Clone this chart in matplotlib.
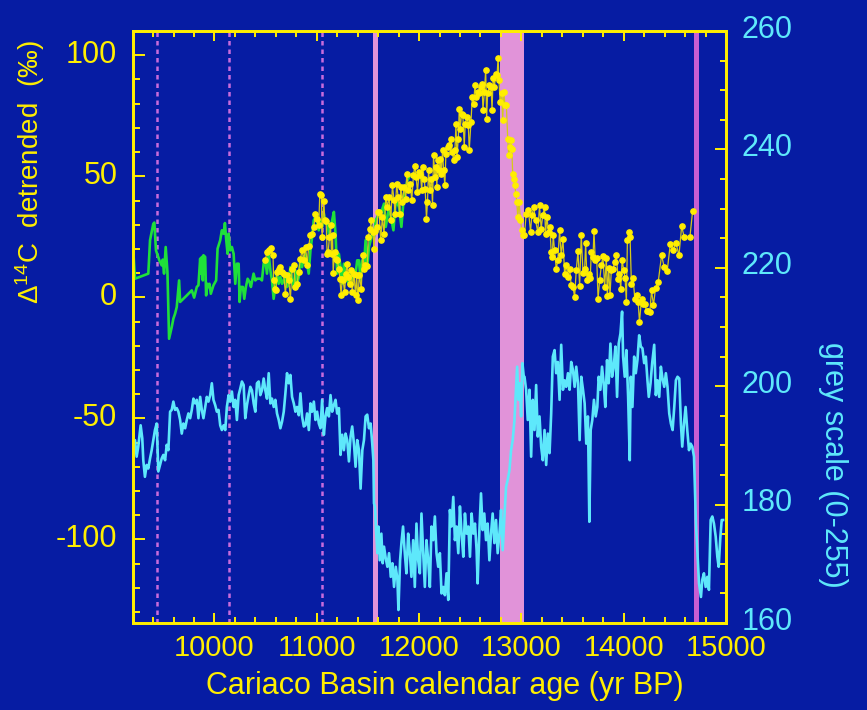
import matplotlib
matplotlib.use("Agg")
import matplotlib.pyplot as plt
import matplotlib.transforms as mtransforms
from matplotlib.ticker import MultipleLocator

plt.rcParams['font.family'] = ['Liberation Sans', 'DejaVu Sans']
plt.rcParams['mathtext.fontset'] = 'custom'
plt.rcParams['mathtext.rm'] = 'Liberation Sans'
plt.rcParams['mathtext.it'] = 'Liberation Sans'
plt.rcParams['axes.unicode_minus'] = False

# green record (delta 14C detrended, left axis)
green_age = [9206, 9223, 9353, 9370, 9402, 9412, 9428, 9461, 9484, 9494, 9507, 9523, 9540, 9556, 9582,
             9598, 9615, 9631, 9654, 9664, 9696, 9729, 9778, 9801, 9827, 9843, 9860, 9869, 9876, 9886,
             9892, 9909, 9918, 9932, 9941, 9951, 9964, 9990, 10016, 10030, 10056, 10072, 10089, 10102,
             10115, 10128, 10138, 10154, 10170, 10187, 10203, 10219, 10236, 10245, 10258, 10278, 10291,
             10307, 10324, 10343, 10356, 10382, 10399, 10415, 10448, 10464, 10480, 10497, 10513, 10529,
             10546, 10562, 10578, 10595, 10611, 10627, 10644, 10660, 10676, 10693, 10709, 10725, 10742,
             10758, 10774, 10791, 10807, 10823, 10840, 10856, 10872, 10889, 10905, 10921, 10938, 10954,
             10970, 10987, 11003, 11019, 11036, 11052, 11069, 11085, 11101, 11118, 11134, 11150, 11167,
             11183, 11199, 11216, 11232, 11248, 11265, 11281, 11297, 11314, 11330, 11346, 11363, 11379,
             11395, 11412, 11428, 11444, 11461, 11477, 11493, 11510, 11526, 11542, 11559, 11575, 11591,
             11608, 11625, 11657, 11674, 11706, 11749, 11772, 11804, 11827, 11853, 11886, 11902]
green_d14c = [19.4, 7.7, 9.8, 23.6, 30.4, 30.9, 19.4, 15.3, 13.2, 15.6, 9.8, 20.8, 10.5, -17.1, -12.3,
              -8.8, -6.7, -4.0, 7.0, -1.9, -0.6, 0.8, 2.9, -0.1, 4.3, 5.0, 16.0, 9.8, 16.7, 7.0,
              17.4, 16.7, 0.8, 5.6, 4.3, 5.6, 1.5, 5.0, 7.0, 20.1, 23.6, 27.7, 26.3, 30.7,
              23.6, 18.0, 26.3, 19.4, 20.8, 18.0, 5.6, 13.9, 13.9, -1.9, 4.3, 4.3, -0.6,
              4.3, 7.7, 6.3, 4.3, 9.8, 7.0, 7.7, 7.7, 7.0, 13.9, 15.3, 9.8, 18.0,
              11.2, 7.0, -0.6, 4.3, 9.8, 5.6, 8.4, 5.6, 7.0, 9.8, 4.3, 5.6, 12.5,
              7.0, 4.3, 11.2, 5.6, 8.4, 15.3, 12.5, 16.7, 18.0, 13.9, 9.8, 19.4, 24.9,
              31.8, 33.2, 31.8, 27.7, 31.8, 29.1, 34.6, 30.4, 31.8, 26.3, 29.1, 31.8, 35.3,
              26.3, 9.8, 18.0, 12.5, 5.6, 13.9, 8.4, 7.0, 5.6, 9.8, 7.0, 8.4, 9.8,
              15.3, 15.3, 7.0, 15.3, 12.5, 23.6, 12.5, 20.8, 23.6, 26.3, 24.9, 31.8, 33.2,
              34.6, 34.6, 38.7, 29.1, 37.3, 27.7, 40.1, 37.3, 29.1, 42.8, 48.3, 49.7]

# Cariaco delta 14C (yellow dots, left axis)
cariaco_age = [10497, 10513, 10529, 10552, 10572, 10578, 10588, 10601, 10611, 10627, 10644, 10660, 10676,
               10693, 10709, 10725, 10742, 10758, 10774, 10791, 10807, 10823, 10840, 10856, 10872, 10891,
               10905, 10921, 10938, 10954, 10970, 10987, 11003, 11019, 11029, 11045, 11052, 11069, 11078,
               11091, 11101, 11111, 11124, 11134, 11144, 11154, 11160, 11173, 11183, 11199, 11216, 11225,
               11238, 11248, 11258, 11271, 11284, 11297, 11307, 11324, 11337, 11346, 11363, 11379, 11389,
               11402, 11415, 11435, 11448, 11464, 11474, 11493, 11503, 11520, 11533, 11549, 11559, 11569,
               11585, 11598, 11608, 11625, 11641, 11657, 11674, 11690, 11706, 11723, 11739, 11755, 11765,
               11781, 11794, 11811, 11821, 11837, 11853, 11870, 11879, 11896, 11912, 11928, 11945, 11958,
               11971, 11984, 12000, 12013, 12026, 12036, 12049, 12059, 12072, 12082, 12092, 12105, 12121,
               12131, 12141, 12154, 12164, 12174, 12180, 12196, 12206, 12216, 12229, 12239, 12252, 12262,
               12278, 12294, 12311, 12324, 12337, 12350, 12360, 12370, 12383, 12392, 12402, 12415, 12428,
               12441, 12451, 12468, 12481, 12490, 12507, 12520, 12533, 12546, 12559, 12572, 12588, 12605,
               12615, 12624, 12638, 12651, 12660, 12670, 12687, 12703, 12713, 12723, 12736, 12749, 12762,
               12772, 12781, 12791, 12808, 12817, 12827, 12840, 12853, 12866, 12876, 12886, 12896, 12906,
               12915, 12925, 12935, 12945, 12955, 12964, 12977, 12991, 13004, 13017, 13030, 13046, 13069,
               13089, 13102, 13121, 13138, 13160, 13177, 13193, 13209, 13226, 13236, 13249, 13265, 13278,
               13291, 13301, 13311, 13324, 13340, 13356, 13373, 13389, 13406, 13422, 13438, 13455, 13471,
               13487, 13504, 13520, 13536, 13553, 13569, 13585, 13602, 13618, 13628, 13641, 13657, 13673,
               13683, 13700, 13709, 13722, 13736, 13749, 13765, 13781, 13797, 13814, 13830, 13840, 13853,
               13866, 13879, 13896, 13912, 13928, 13945, 13957, 13971, 13984, 14000, 14013, 14026, 14036,
               14049, 14062, 14075, 14092, 14108, 14125, 14141, 14154, 14174, 14190, 14206, 14223, 14239,
               14255, 14272, 14291, 14311, 14337, 14370, 14396, 14425, 14455, 14484, 14510, 14540, 14566,
               14592, 14647, 14673]
cariaco_d14c = [15.6, 18.7, 19.7, 20.4, 17.6, 7.0, 3.6, 2.9, 10.5, 11.8, 12.5, 10.5, 9.8,
                1.5, 9.1, 7.3, -0.6, 11.8, 13.5, 4.3, 5.6, 10.5, 16.0, 19.4, 15.6, 20.8,
                13.2, 21.1, 25.9, 26.3, 29.1, 34.3, 32.5, 29.8, 42.6, 42.1, 24.9, 39.8, 31.8,
                31.4, 18.0, 18.7, 24.9, 29.8, 18.0, 25.6, 10.1, 18.7, 16.0, 15.3, 11.8, 7.7,
                0.8, 7.7, 7.0, 2.2, 9.8, 13.9, 8.4, 5.6, 11.4, 2.2, 9.8, 0.8, 9.1,
                -1.2, 9.1, 3.6, 17.6, 11.8, 13.2, 12.9, 24.9, 28.4, 31.8, 27.0, 20.1, 27.3,
                29.1, 35.3, 35.3, 23.6, 33.2, 26.3, 41.5, 37.3, 41.5, 31.8, 46.3, 40.1, 34.6,
                47.0, 41.5, 34.6, 45.6, 39.4, 45.6, 40.8, 51.1, 44.2, 47.0, 40.1, 50.4, 54.4,
                49.7, 43.5, 51.8, 50.4, 44.2, 53.9, 49.0, 44.9, 32.5, 39.4, 52.5, 44.2, 49.0,
                38.0, 58.7, 49.7, 53.9, 45.6, 56.6, 52.5, 57.3, 51.1, 60.7, 52.5, 46.3, 59.4,
                62.1, 62.8, 65.6, 60.1, 56.6, 60.7, 71.5, 58.0, 65.6, 78.0, 69.7, 75.9, 75.2,
                62.1, 71.8, 74.5, 71.1, 60.7, 72.5, 82.8, 80.0, 87.6, 82.8, 84.8, 84.2, 86.9,
                88.3, 77.3, 84.8, 94.1, 73.8, 84.2, 87.6, 86.9, 77.3, 90.4, 86.9, 92.4, 91.7,
                99.0, 89.7, 80.7, 84.2, 73.4, 84.8, 79.3, 79.3, 65.6, 58.7, 62.1, 64.9, 61.4,
                51.1, 49.0, 46.3, 42.8, 39.4, 33.2, 39.4, 31.8, 27.7, 25.6, 25.6, 34.6, 36.0,
                27.0, 33.9, 37.3, 31.8, 27.0, 38.0, 28.4, 33.9, 37.3, 26.3, 33.2, 27.0, 29.1,
                18.7, 16.7, 25.6, 19.4, 11.8, 15.3, 27.7, 17.4, 24.2, 9.8, 13.2, 8.4, 11.8,
                5.0, 4.3, 0.1, 11.2, 19.1, 4.5, 25.9, 10.1, 11.8, 22.5, 7.0, 9.8, 8.1,
                18.7, 16.7, 27.3, 15.6, 16.4, -0.6, 7.0, 13.2, 16.9, 4.3, 16.4, 0.4, 12.3,
                0.8, 11.4, 11.8, 14.6, 17.6, 7.7, 9.5, 3.6, 15.3, 11.2, 8.1, -1.9, 23.6,
                27.0, 24.9, 5.6, 8.1, -0.6, 0.8, -1.9, -10.2, -0.6, -2.6, -2.9, -5.6, -5.8,
                -6.1, 2.9, -3.3, 3.9, 6.3, 17.4, 12.5, 10.9, 21.9, 19.7, 22.5, 17.4, 29.3,
                24.9, 24.9, 35.5]

# grey scale record (cyan, right axis)
grey_age = [9206, 9223, 9239, 9255, 9278, 9294, 9304, 9320, 9337, 9353, 9370, 9386, 9402, 9418, 9435,
            9451, 9468, 9484, 9500, 9517, 9533, 9549, 9566, 9582, 9598, 9615, 9631, 9647, 9664, 9680,
            9696, 9713, 9729, 9745, 9762, 9778, 9794, 9811, 9827, 9843, 9860, 9876, 9892, 9909, 9925,
            9941, 9958, 9974, 9990, 10007, 10023, 10039, 10056, 10072, 10089, 10105, 10121, 10138,
            10154, 10170, 10187, 10203, 10219, 10236, 10252, 10268, 10285, 10301, 10317, 10334, 10350,
            10366, 10383, 10399, 10415, 10432, 10448, 10464, 10481, 10497, 10513, 10530, 10546, 10562,
            10579, 10595, 10611, 10628, 10644, 10660, 10677, 10693, 10709, 10726, 10742, 10758, 10775,
            10791, 10807, 10824, 10840, 10856, 10873, 10889, 10905, 10922, 10938, 10954, 10971, 10987,
            11003, 11020, 11036, 11052, 11069, 11085, 11101, 11118, 11134, 11150, 11167, 11183, 11199,
            11216, 11232, 11248, 11265, 11281, 11297, 11314, 11330, 11346, 11363, 11379, 11395, 11412,
            11428, 11445, 11461, 11477, 11493, 11510, 11526, 11542, 11553, 11559, 11569, 11579, 11592,
            11602, 11615, 11631, 11644, 11657, 11674, 11690, 11706, 11723, 11739, 11755, 11772, 11788,
            11798, 11814, 11827, 11843, 11860, 11876, 11893, 11909, 11925, 11942, 11958, 11974, 11991,
            12007, 12023, 12040, 12056, 12072, 12089, 12105, 12121, 12138, 12154, 12170, 12187, 12203,
            12219, 12236, 12252, 12268, 12285, 12301, 12317, 12334, 12350, 12366, 12383, 12399, 12415,
            12432, 12448, 12464, 12481, 12497, 12513, 12530, 12546, 12562, 12572, 12588, 12605, 12621,
            12637, 12654, 12670, 12687, 12703, 12719, 12736, 12752, 12768, 12785, 12801, 12817, 12834,
            12850, 12866, 12883, 12899, 12915, 12932, 12948, 12958, 12971, 12984, 12997, 13010, 13023,
            13030, 13046, 13062, 13079, 13095, 13111, 13128, 13144, 13160, 13177, 13193, 13209, 13226,
            13242, 13258, 13275, 13291, 13307, 13324, 13340, 13356, 13373, 13389, 13406, 13422, 13438,
            13455, 13471, 13487, 13504, 13520, 13536, 13553, 13569, 13585, 13602, 13618, 13634, 13650,
            13664, 13677, 13693, 13709, 13726, 13742, 13755, 13772, 13788, 13804, 13820, 13837, 13853,
            13870, 13886, 13902, 13919, 13935, 13951, 13968, 13984, 13994, 14010, 14026, 14043, 14059,
            14069, 14085, 14102, 14118, 14134, 14151, 14167, 14183, 14200, 14216, 14232, 14245, 14262,
            14278, 14298, 14314, 14330, 14347, 14363, 14379, 14396, 14412, 14428, 14445, 14461, 14478,
            14494, 14510, 14526, 14543, 14559, 14572, 14589, 14605, 14621, 14638, 14654, 14670, 14687,
            14696, 14706, 14719, 14736, 14755, 14768, 14784, 14801, 14817, 14833, 14850, 14866, 14882,
            14899, 14915, 14928, 14945, 14958, 14971]
grey_val = [188.4, 190.9, 188.1, 189.8, 193.4, 191.2, 187.5, 184.7, 186.7, 186.1, 187.8, 189.2, 190.9, 192.6, 193.7,
            185.6, 186.7, 187.8, 188.4, 187.5, 190.1, 189.2, 195.7, 196.0, 197.4, 196.0, 196.3, 195.7, 194.3, 192.0,
            193.7, 192.9, 194.3, 195.4, 194.6, 196.0, 197.9, 197.1, 197.7, 194.6, 198.2, 196.0, 194.6, 196.5, 198.2,
            197.4, 198.5, 200.5, 197.7, 196.8, 195.7, 196.0, 193.4, 192.6, 193.4, 192.6, 196.5, 198.5,
            197.4, 199.1, 196.5, 197.7, 194.3, 198.5, 199.6, 200.8, 200.2, 194.6, 196.8, 198.5, 199.9,
            199.3, 197.1, 195.7, 200.5, 200.8, 198.5, 199.3, 201.3, 199.3, 197.9, 202.2, 197.1, 197.9,
            196.5, 197.7, 195.4, 194.3, 192.9, 194.0, 195.7, 198.8, 202.2, 200.5, 201.9, 198.2, 197.1,
            195.7, 196.5, 195.1, 198.8, 194.9, 193.2, 193.4, 195.4, 192.6, 197.1, 195.7, 197.4, 194.3,
            195.7, 193.7, 192.9, 197.7, 191.8, 194.9, 196.3, 194.9, 198.5, 195.7, 196.8, 197.7, 195.4,
            196.3, 188.4, 191.8, 189.2, 192.0, 190.9, 187.3, 191.5, 193.2, 190.3, 186.4, 190.9, 189.2,
            182.7, 189.2, 190.9, 194.9, 195.2, 192.9, 193.7, 190.3, 187.5, 180.2, 179.7, 175.7, 171.8,
            176.3, 170.6, 175.1, 170.1, 172.9, 170.9, 169.5, 171.8, 167.8, 170.1, 166.1, 169.5, 167.3,
            162.2, 170.6, 173.5, 176.3, 171.8, 168.4, 175.1, 171.8, 167.8, 174.0, 166.1, 176.8, 170.6,
            168.4, 178.5, 171.8, 166.1, 174.0, 170.6, 166.1, 176.3, 174.0, 178.0, 171.8, 169.5, 171.8,
            165.0, 166.1, 164.7, 168.4, 163.9, 179.1, 176.3, 181.3, 174.0, 176.3, 171.8, 179.7, 175.1,
            171.2, 178.5, 175.1, 176.3, 171.2, 178.5, 175.1, 176.8, 172.3, 166.7, 175.1, 181.9, 175.7,
            178.5, 174.0, 176.8, 170.6, 175.1, 178.5, 173.5, 177.4, 171.8, 175.1, 179.1, 172.3, 178.0,
            183.0, 184.2, 185.8, 189.2, 190.9, 194.3, 199.9, 203.3, 197.7, 200.5, 194.9, 203.9, 201.6,
            201.6, 199.4, 194.3, 199.4, 188.1, 197.7, 192.6, 200.2, 191.5, 194.9, 189.8, 187.5, 192.6,
            186.7, 192.0, 188.7, 195.4, 205.0, 206.1, 202.2, 204.1, 197.7, 207.0, 199.4, 201.0, 199.9,
            202.2, 199.4, 204.1, 202.7, 199.9, 203.3, 200.5, 190.9, 201.6, 199.4, 197.1, 190.3, 194.9,
            177.1, 192.6, 194.3, 197.7, 194.9, 196.5, 201.6, 199.4, 203.3, 200.5, 196.5, 204.4, 200.5,
            207.2, 201.6, 203.3, 206.7, 198.2, 207.2, 208.9, 212.6, 205.0, 201.6, 206.1, 198.2, 187.5,
            201.6, 196.5, 205.0, 202.2, 204.4, 208.6, 206.7, 206.4, 203.9, 205.0, 201.0, 198.2, 200.5,
            203.9, 207.0, 198.5, 201.0, 198.2, 203.3, 201.3, 199.9, 202.2, 199.9, 195.4, 193.7, 192.6,
            196.5, 201.0, 201.6, 201.3, 193.7, 189.8, 193.7, 196.5, 192.6, 189.2, 190.3, 189.8, 188.1,
            182.5, 176.9, 172.3, 166.7, 164.4, 167.3, 168.4, 166.1, 167.8, 165.6, 177.4, 178.0, 176.8,
            174.6, 171.2, 169.5, 174.6, 177.4, 177.4]

# event markers
dotted_lines = [9440, 10140, 11050]
bands = [(11545, 11595), (12795, 13025)]
band_right = (14683, 14733)

bg = '#061ca3'
yel = '#ffee00'
cyan = '#5ee8fb'

fig = plt.figure(figsize=(8.67, 7.10), dpi=100, facecolor=bg)
ax = fig.add_axes([0.153, 0.1225, 0.6844, 0.8338])
ax.set_facecolor(bg)
ax2 = ax.twinx()

ax.set_xlim(9200, 15000)
ax.set_ylim(-134.5, 110)
ax2.set_ylim(160, 260)

for a, b in bands:
    ax.axvspan(a, b, color='#e193d9', lw=0, zorder=1)
ax.axvspan(band_right[0], band_right[1], color='#c85ed2', lw=0, zorder=1)
for x in dotted_lines:
    ax.axvline(x, color='#c96bdc', lw=1.8, ls=(0, (1.8, 1.6)), zorder=1)

ax.plot(green_age, green_d14c, color='#1fe03a', lw=1.9, zorder=3)
ax.plot(cariaco_age, cariaco_d14c, color='#d6ca18', lw=0.9, marker='o', ms=3.8,
        mfc=yel, mec=yel, zorder=4)
ax2.plot(grey_age, grey_val, color=cyan, lw=1.9)

ax.xaxis.set_major_locator(MultipleLocator(1000))
ax.xaxis.set_minor_locator(MultipleLocator(200))
ax.yaxis.set_major_locator(MultipleLocator(50))
ax.yaxis.set_minor_locator(MultipleLocator(10))
ax2.yaxis.set_major_locator(MultipleLocator(20))
ax2.yaxis.set_minor_locator(MultipleLocator(5))

ax.tick_params(axis='x', which='both', direction='in', top=True, color=yel, width=1.4,
               labelcolor=yel, labelsize=21, pad=8)
ax.tick_params(axis='x', which='major', length=7.5)
ax.tick_params(axis='x', which='minor', length=4.3)
ax.tick_params(axis='y', which='both', direction='in', color=yel, width=1.4,
               labelcolor=yel, labelsize=22, pad=11)
ax.tick_params(axis='y', which='major', length=8.6)
ax.tick_params(axis='y', which='minor', length=5)
ax2.tick_params(axis='y', which='both', direction='in', color=yel, width=1.4,
                labelcolor=cyan, labelsize=22, pad=11.5)
ax2.tick_params(axis='y', which='major', length=8)
ax2.tick_params(axis='y', which='minor', length=4.3)

# tick labels sit a few pixels above their ticks in the original
up_left = mtransforms.ScaledTranslation(0, 0.035, fig.dpi_scale_trans)
up_right = mtransforms.ScaledTranslation(0, 0.05, fig.dpi_scale_trans)
for lab in ax.get_yticklabels():
    lab.set_transform(lab.get_transform() + up_left)
for lab in ax2.get_yticklabels():
    lab.set_transform(lab.get_transform() + up_right)

for a in (ax, ax2):
    for s in a.spines.values():
        s.set_color(yel)
        s.set_linewidth(2)

fig.text(0.035, 0.758, r'$\Delta^{14}$C  detrended  (‰)', rotation=90, color=yel,
         fontsize=20, ha='center', va='center')
fig.text(0.961, 0.345, 'grey scale (0-255)', rotation=270, color=cyan,
         fontsize=22, ha='center', va='center')
fig.text(0.513, 0.034, 'Cariaco Basin calendar age (yr BP)', color=yel,
         fontsize=22, ha='center', va='center')

fig.savefig('out.png', dpi=100, facecolor=bg)
